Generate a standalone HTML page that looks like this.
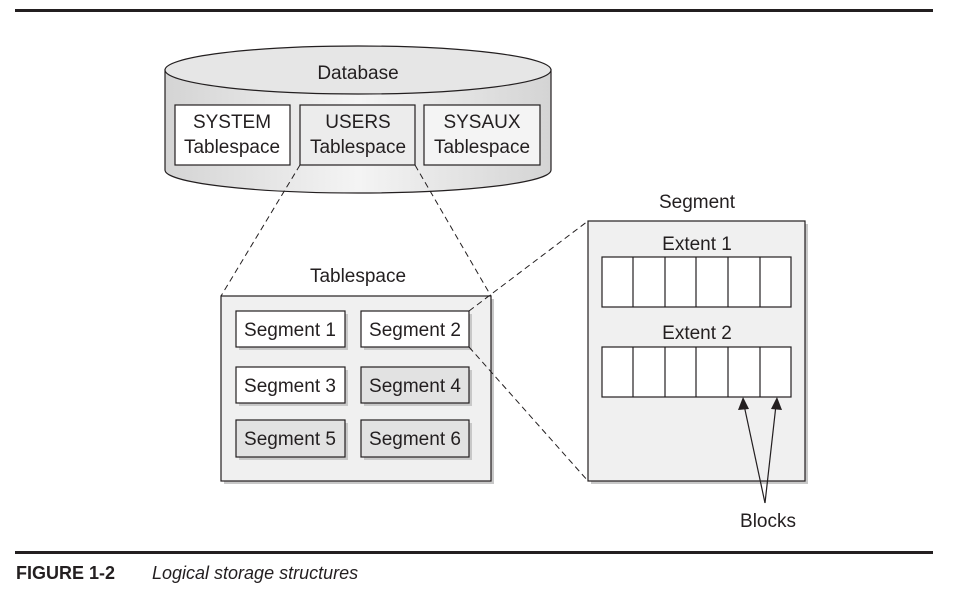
<!DOCTYPE html>
<html><head><style>body{margin:0;background:#fff}svg{display:block}</style></head><body>
<svg width="956" height="591" viewBox="0 0 956 591" xmlns="http://www.w3.org/2000/svg" font-family="Liberation Sans, sans-serif">
<defs>
<linearGradient id="cyl" x1="0" x2="1" y1="0" y2="0">
<stop offset="0" stop-color="#d4d4d4"/><stop offset="0.5" stop-color="#f4f4f4"/><stop offset="1" stop-color="#d4d4d4"/>
</linearGradient>
</defs>
<rect x="15" y="9" width="918" height="3" fill="#231f20"/>
<rect x="15" y="551" width="918" height="3" fill="#231f20"/>
<text x="16" y="579" font-size="18" font-weight="bold" fill="#231f20">FIGURE 1-2</text>
<text x="152" y="579" font-size="18" font-style="italic" fill="#231f20">Logical storage structures</text>

<!-- cylinder -->
<path d="M165,70 L165,170 A193,23 0 0 0 551,170 L551,70 Z" fill="url(#cyl)" stroke="#231f20" stroke-width="1.2"/>
<ellipse cx="358" cy="70" rx="193" ry="24" fill="#e6e6e6" stroke="#231f20" stroke-width="1.2"/>
<text x="358" y="79" font-size="19" text-anchor="middle" fill="#231f20">Database</text>
<g font-size="19" text-anchor="middle" fill="#231f20">
<rect x="175" y="105" width="115" height="60" fill="#fff" stroke="#231f20" stroke-width="1.2"/>
<text x="232" y="128">SYSTEM</text><text x="232" y="153">Tablespace</text>
<rect x="300" y="105" width="115" height="60" fill="#ececec" stroke="#231f20" stroke-width="1.2"/>
<text x="358" y="128">USERS</text><text x="358" y="153">Tablespace</text>
<rect x="424" y="105" width="116" height="60" fill="#f4f4f4" stroke="#231f20" stroke-width="1.2"/>
<text x="482" y="128">SYSAUX</text><text x="482" y="153">Tablespace</text>
</g>

<!-- tablespace -->
<text x="358" y="282" font-size="19" text-anchor="middle" fill="#231f20">Tablespace</text>
<rect x="224" y="299" width="270" height="185" fill="#c8c8c8"/>
<rect x="221" y="296" width="270" height="185" fill="#f0f0f0" stroke="#231f20" stroke-width="1.2"/>
<g font-size="19" text-anchor="middle" fill="#231f20" stroke-width="1.2">
<rect x="239" y="314" width="109" height="36" fill="#c8c8c8"/>
<rect x="236" y="311" width="109" height="36" fill="#fff" stroke="#231f20"/><text x="290" y="336">Segment 1</text>
<rect x="364" y="314" width="108" height="36" fill="#c8c8c8"/>
<rect x="361" y="311" width="108" height="36" fill="#fff" stroke="#231f20"/><text x="415" y="336">Segment 2</text>
<rect x="239" y="370" width="109" height="36" fill="#c8c8c8"/>
<rect x="236" y="367" width="109" height="36" fill="#fff" stroke="#231f20"/><text x="290" y="392">Segment 3</text>
<rect x="364" y="370" width="108" height="36" fill="#c8c8c8"/>
<rect x="361" y="367" width="108" height="36" fill="#e2e2e2" stroke="#231f20"/><text x="415" y="392">Segment 4</text>
<rect x="239" y="423" width="109" height="37" fill="#c8c8c8"/>
<rect x="236" y="420" width="109" height="37" fill="#e2e2e2" stroke="#231f20"/><text x="290" y="445">Segment 5</text>
<rect x="364" y="423" width="108" height="37" fill="#c8c8c8"/>
<rect x="361" y="420" width="108" height="37" fill="#e2e2e2" stroke="#231f20"/><text x="415" y="445">Segment 6</text>
</g>

<!-- segment -->
<text x="697" y="208" font-size="19" text-anchor="middle" fill="#231f20">Segment</text>
<rect x="591" y="224" width="217" height="260" fill="#c8c8c8"/>
<rect x="588" y="221" width="217" height="260" fill="#f0f0f0" stroke="#231f20" stroke-width="1.2"/>
<text x="697" y="250" font-size="19" text-anchor="middle" fill="#231f20">Extent 1</text>
<text x="697" y="339" font-size="19" text-anchor="middle" fill="#231f20">Extent 2</text>
<g fill="#fff" stroke="#231f20" stroke-width="1.2">
<rect x="602" y="257" width="189" height="50"/>
<rect x="602" y="347" width="189" height="50"/>
</g>
<g stroke="#231f20" stroke-width="1.2">
<line x1="633" y1="257" x2="633" y2="307"/><line x1="665" y1="257" x2="665" y2="307"/><line x1="696" y1="257" x2="696" y2="307"/><line x1="728" y1="257" x2="728" y2="307"/><line x1="760" y1="257" x2="760" y2="307"/>
<line x1="633" y1="347" x2="633" y2="397"/><line x1="665" y1="347" x2="665" y2="397"/><line x1="696" y1="347" x2="696" y2="397"/><line x1="728" y1="347" x2="728" y2="397"/><line x1="760" y1="347" x2="760" y2="397"/>
<line x1="765" y1="503" x2="744" y2="405"/>
<line x1="765" y1="503" x2="776" y2="405"/>
</g>
<polygon points="743,397 738,410 749,409" fill="#231f20"/>
<polygon points="777,397 771,409 782,410" fill="#231f20"/>
<text x="768" y="527" font-size="19" text-anchor="middle" fill="#231f20">Blocks</text>

<!-- dashed -->
<g stroke="#231f20" stroke-width="1" stroke-dasharray="6,4" fill="none">
<line x1="300" y1="165" x2="221" y2="296"/>
<line x1="415" y1="165" x2="491" y2="296"/>
<line x1="469" y1="311" x2="588" y2="221"/>
<line x1="469" y1="347" x2="588" y2="481"/>
</g>
</svg>
</body></html>
